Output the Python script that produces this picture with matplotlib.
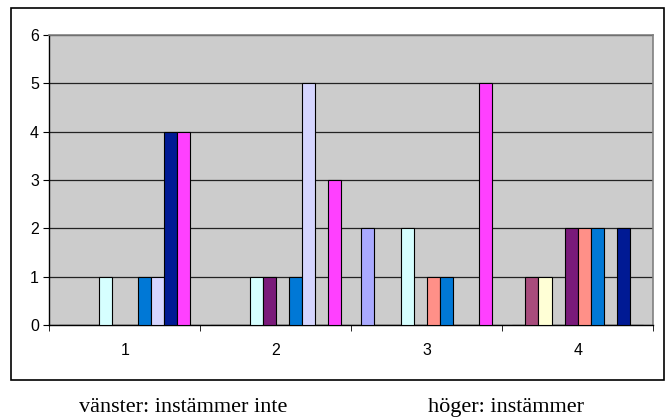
import numpy as np
import matplotlib
matplotlib.use("Agg")
import matplotlib.pyplot as plt
from matplotlib.patches import Rectangle

# categories on the x axis
categories = ["1", "2", "3", "4"]

# one list per series (Excel-style default palette order)
series_values = [
    [0, 0, 2, 0],
    [0, 0, 0, 1],
    [0, 0, 0, 1],
    [1, 1, 2, 0],
    [0, 1, 0, 2],
    [0, 0, 1, 2],
    [1, 1, 1, 2],
    [1, 5, 0, 0],
    [4, 0, 0, 2],
    [4, 3, 5, 0],
]
series_colors = ["#AAAAFF", "#A84C7C", "#FFFFD6", "#D6FFFF", "#7A1A7A",
                 "#FF9088", "#0078D6", "#D6D6FF", "#001A94", "#FF40FF"]

left_note = "vänster: instämmer inte"
right_note = "höger: instämmer"

fig = plt.figure(figsize=(6.66, 4.17), dpi=100)
ax = fig.add_axes([49.3 / 666, 1 - 325 / 417, (653.3 - 49.3) / 666, (325 - 35) / 417])

# outer chart frame
fig.patches.append(Rectangle((11 / 666, 1 - 379.5 / 417), 653 / 666, 372 / 417,
                             transform=fig.transFigure, fill=False,
                             edgecolor="black", linewidth=1.2))

n = len(series_values)
slot = 1 / (n + 1.5)
x = np.arange(len(categories))
for i, (vals, col) in enumerate(zip(series_values, series_colors)):
    pos = x - 0.5 + (0.75 + i + 0.5) * slot
    ax.bar(pos, vals, width=slot, color=col, edgecolor="black",
           linewidth=0.8, zorder=3)

ax.set_facecolor("#CCCCCC")
ax.set_xlim(-0.5, len(categories) - 0.5)
ax.set_ylim(0, 6)
ax.set_yticks(range(0, 7))
ax.yaxis.grid(True, color="#222222", linewidth=0.9, zorder=1)
ax.set_axisbelow(True)

ax.set_xticks(x)
ax.set_xticklabels(categories)
ax.set_xticks(np.arange(-0.5, len(categories)), minor=True)
ax.tick_params(axis="x", which="major", length=0, pad=13)
ax.tick_params(axis="x", which="minor", length=4.5, direction="out", color="black")
ax.tick_params(axis="y", length=4.5, direction="out", pad=3)

for lab in ax.get_xticklabels() + ax.get_yticklabels():
    lab.set_fontfamily("Liberation Sans")
    lab.set_fontsize(11.5)

for side in ["top", "right"]:
    ax.spines[side].set_color("#808080")
    ax.spines[side].set_linewidth(1.2)
for side in ["left", "bottom"]:
    ax.spines[side].set_color("black")
    ax.spines[side].set_linewidth(1.0)

fig.text(79 / 666, 1 - 412 / 417, left_note, family="Liberation Serif",
         fontsize=16, va="baseline", ha="left")
fig.text(427.7 / 666, 1 - 412 / 417, right_note, family="Liberation Serif",
         fontsize=16, va="baseline", ha="left")

fig.savefig("out.png", dpi=100)
